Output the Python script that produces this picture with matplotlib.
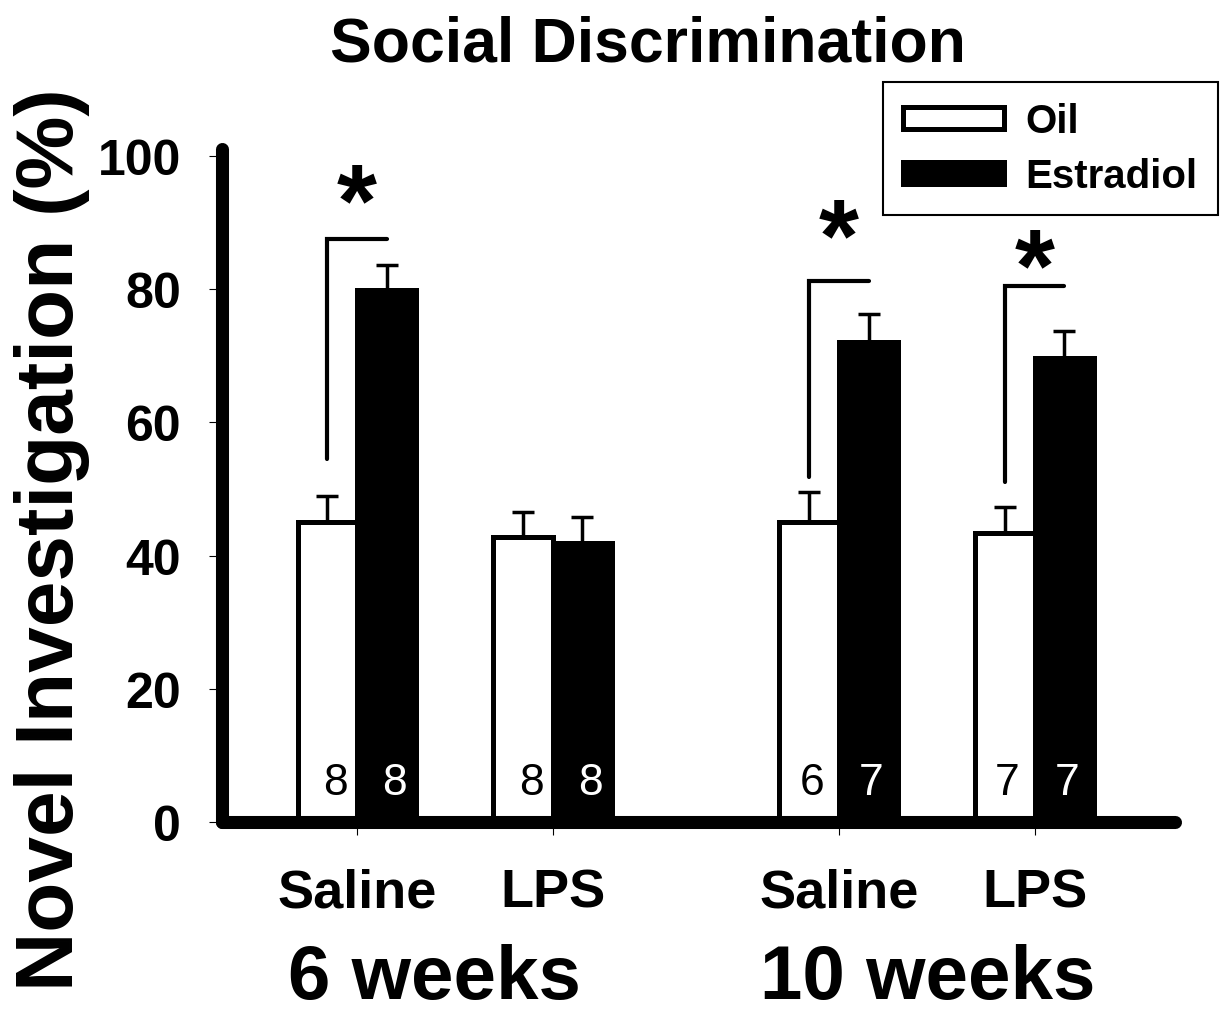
import matplotlib
matplotlib.use("Agg")
import matplotlib.pyplot as plt
import numpy as np

plt.rcParams['font.family'] = ['Liberation Sans', 'DejaVu Sans']

# data
groups = ["6 weeks", "10 weeks"]
treatments = ["Saline", "LPS", "Saline", "LPS"]
oil_mean = [45.0, 42.8, 45.0, 43.4]
oil_sem = [3.9, 3.7, 4.5, 3.9]
est_mean = [79.9, 41.9, 72.1, 69.7]
est_sem = [3.7, 3.9, 4.2, 4.0]
oil_n = [8, 8, 6, 7]
est_n = [8, 8, 7, 7]
# significance brackets: (index, bottom, top, star height)
sig = [(0, 54.5, 87.5, 95.5), (2, 51.8, 81.2, 90.2), (3, 51.0, 80.5, 85.7)]

pos = np.array([1.0, 2.45, 4.57, 6.02])
w = 0.44

fig = plt.figure(figsize=(12.2, 10.2), dpi=100)
ax = fig.add_axes([222/1220, 197/1020, 953/1220, 672.6/1020])

oil = ax.bar(pos - w/2, oil_mean, w, color="white", edgecolor="black",
             linewidth=3.6, label="Oil", zorder=2)
est = ax.bar(pos + w/2, est_mean, w, color="black", edgecolor="black",
             linewidth=3.6, label="Estradiol", zorder=2)
ax.errorbar(pos - w/2, oil_mean, yerr=[np.zeros(4), oil_sem], fmt="none",
            ecolor="black", elinewidth=2.5, capsize=8, capthick=2.5, zorder=1)
ax.errorbar(pos + w/2, est_mean, yerr=[np.zeros(4), est_sem], fmt="none",
            ecolor="black", elinewidth=2.5, capsize=8, capthick=2.5, zorder=1)

for i in range(4):
    dx = 0.06 if i < 2 else 0.02
    ax.text(pos[i] - w/2 + dx, 5.9, str(oil_n[i]), ha="center", va="center",
            fontsize=32, color="black", zorder=3)
    ax.text(pos[i] + w/2 + dx, 5.9, str(est_n[i]), ha="center", va="center",
            fontsize=32, color="white", zorder=3)

star_fs = 74
# va="center" puts the asterisk glyph about 0.22 em above the given y
star_dy = 0.22 * star_fs * 100 / 72 / 6.66
for i, lo, hi, st in sig:
    ax.plot([pos[i] - w/2, pos[i] - w/2, pos[i] + w/2], [lo, hi, hi],
            color="black", lw=3, solid_capstyle="round", solid_joinstyle="miter")
    ax.text(pos[i], st - star_dy, "*", ha="center", va="center",
            fontsize=star_fs, fontweight="bold")

ax.set_xlim(0, 7.06)
ax.set_ylim(0, 101)
ax.set_yticks(np.arange(0, 101, 20))
ax.set_yticklabels([str(v) for v in range(0, 101, 20)], fontsize=36,
                   fontweight="bold")
ax.set_xticks(pos)
ax.set_xticklabels(treatments, fontsize=39, fontweight="bold")
ax.tick_params(axis="y", length=9.5, width=0.8, pad=20)
ax.tick_params(axis="x", length=9, width=0.8, pad=24)

for s in ["top", "right"]:
    ax.spines[s].set_visible(False)
for s in ["left", "bottom"]:
    ax.spines[s].set_linewidth(9.4)
    ax.spines[s].set_capstyle("round")

group_x = [(pos[0] + pos[1]) / 2 - 0.15, (pos[2] + pos[3]) / 2 - 0.07]
for g, x in zip(groups, group_x):
    ax.text(x, -26.4, g, ha="center", va="baseline", fontsize=55,
            fontweight="bold", clip_on=False)

fig.text(648/1220, 1 - 45/1020, "Social Discrimination", ha="center",
         va="center", fontsize=45, fontweight="bold")
fig.text(52/1220, 1 - 540/1020, "Novel Investigation (%)", ha="center",
         va="center", rotation=90, fontsize=59, fontweight="bold")

leg = ax.legend(handles=[oil, est], loc="upper right",
                bbox_to_anchor=(1218/1220, 1 - 83/1020),
                bbox_transform=fig.transFigure, borderaxespad=0,
                fancybox=False, edgecolor="black", framealpha=1,
                prop={"size": 29, "weight": "bold"}, handlelength=2.5,
                handleheight=0.45, handletextpad=0.55, borderpad=0.5,
                labelspacing=0.42)
leg.get_frame().set_linewidth(1.5)

fig.savefig("out.png", dpi=100)
